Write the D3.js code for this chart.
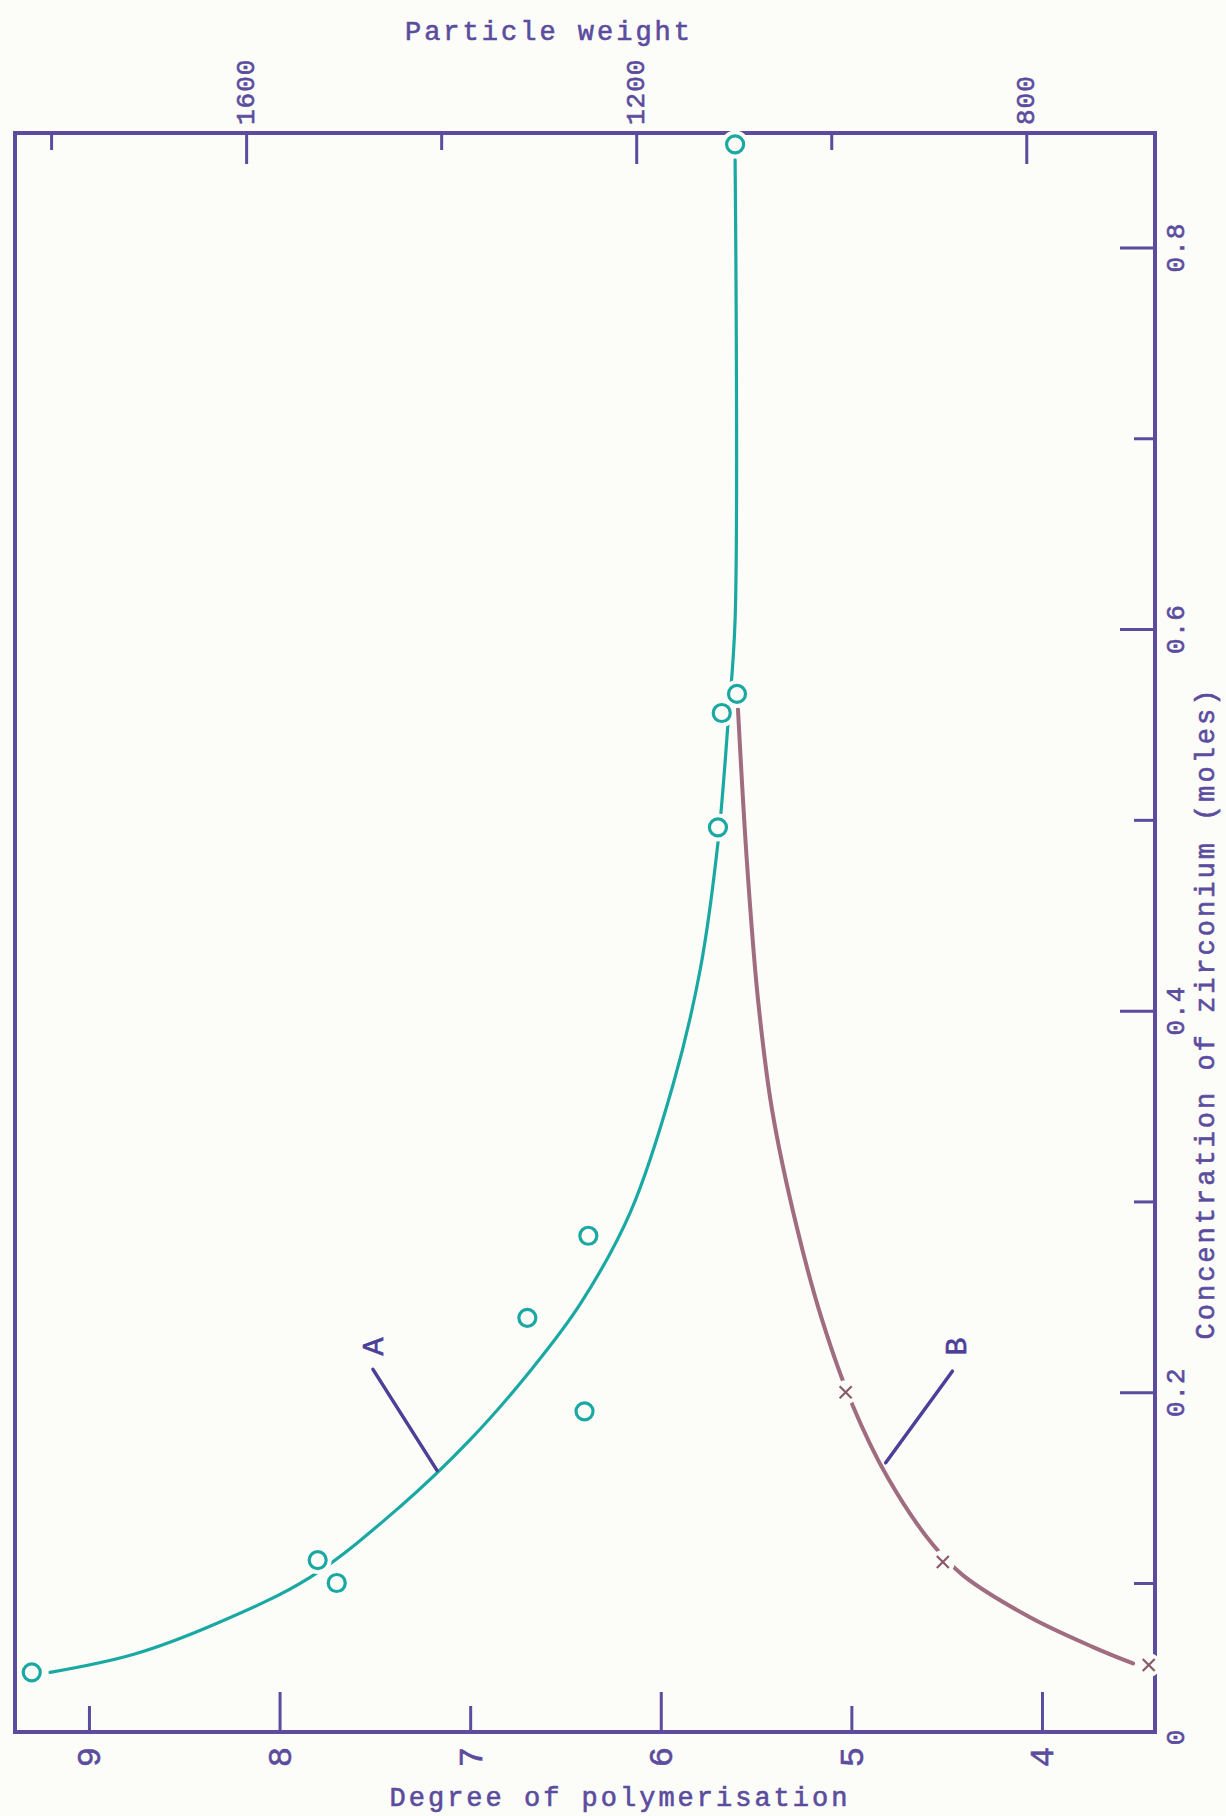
<!DOCTYPE html>
<html>
<head>
<meta charset="utf-8">
<script src="https://cdn.jsdelivr.net/npm/d3@7"></script>
<style>
  html, body { margin: 0; padding: 0; background: #fcfcf9; }
  svg { display: block; }
  text { font-family: "Liberation Mono", "DejaVu Sans Mono", monospace; fill: #5b4c9e; stroke: #5b4c9e; stroke-width: 0.6px; }
</style>
</head>
<body>
<div id="plot"></div>
<script>
// axis ticks
const dpTicks = [9, 8, 7, 6, 5, 4];                 // degree of polymerisation (bottom)
const pwTicks = [1800, 1600, 1400, 1200, 1000, 800]; // particle weight (top)
const pwLabels = [1600, 1200, 800];
const concTicks = [0.1, 0.2, 0.3, 0.4, 0.5, 0.6, 0.7, 0.8]; // zirconium conc. (right)
const concLabels = [0, 0.2, 0.4, 0.6, 0.8];

// curve A - measured points (circles)
const aDp   = [9.30, 7.80, 7.70, 6.40, 6.70, 6.38, 5.70, 5.68, 5.60, 5.61];
const aConc = [0.040, 0.112, 0.100, 0.190, 0.239, 0.282, 0.496, 0.556, 0.566, 0.854];

// curve A - drawn line
const curveADp   = [9.204, 8.769, 8.328, 7.840, 7.368, 7.001, 6.686, 6.424, 6.161, 5.936, 5.794, 5.700, 5.647, 5.610, 5.610];
const curveAConc = [0.040, 0.052, 0.073, 0.103, 0.140, 0.175, 0.211, 0.246, 0.294, 0.361, 0.421, 0.488, 0.551, 0.605, 0.846];

// curve B - measured points (crosses)
const bDp   = [5.03, 4.52, 3.44];
const bConc = [0.200, 0.111, 0.045];

// curve B - drawn line
const curveBDp   = [5.595, 5.548, 5.490, 5.416, 5.290, 5.154, 4.997, 4.808, 4.572, 4.414, 4.063, 3.732, 3.522];
const curveBConc = [0.558, 0.478, 0.406, 0.348, 0.288, 0.238, 0.194, 0.155, 0.120, 0.104, 0.077, 0.057, 0.046];

// curve labels with their leader lines
const curveNames = ["A", "B"];
const labelDp    = [7.50, 4.44];
const labelConc  = [0.224, 0.224];
const leaderFrom = [[7.51, 0.212], [4.47, 0.211]];
const leaderTo   = [[7.174, 0.159], [4.82, 0.163]];

const w = 1226;
const h = 1816;
const frame = {left: 15, top: 133, right: 1155, bottom: 1732};

const purple = "#5b4c9e";
const teal = "#1aa8a2";
const mauve = "#a06c80";
const bg = "#fcfcf9";

// scales
const xDP = d3.scaleLinear()
  .domain([9.388, 3.407])
  .range([frame.left, frame.right]);

const xPW = d3.scaleLinear()
  .domain([1837, 668])
  .range([frame.left, frame.right]);

// hand drawn concentration axis: first interval is shorter than the rest
const yC = d3.scaleLinear()
  .domain([0, 0.1, 0.86])
  .range([frame.bottom, 1583, frame.top]);

const svg = d3.select("div#plot")
  .append("svg")
  .attr("width", w)
  .attr("height", h);

svg.append("rect")
  .attr("width", w)
  .attr("height", h)
  .attr("fill", bg);

// frame
svg.append("rect")
  .attr("x", frame.left)
  .attr("y", frame.top)
  .attr("width", frame.right - frame.left)
  .attr("height", frame.bottom - frame.top)
  .attr("fill", "none")
  .attr("stroke", purple)
  .attr("stroke-width", 4);

// bottom axis (degree of polymerisation), ticks pointing up
const bottomAxis = svg.append("g")
  .attr("transform", `translate(0, ${frame.bottom})`)
  .call(d3.axisTop(xDP).tickValues(dpTicks).tickSize(0).tickFormat(""));
bottomAxis.select(".domain").remove();
bottomAxis.selectAll(".tick line")
  .attr("y2", d => d % 2 === 0 ? -40 : -26)
  .attr("stroke", purple)
  .attr("stroke-width", 3);
bottomAxis.selectAll(".tick")
  .append("text")
  .attr("transform", "translate(2, 25) rotate(-90)")
  .attr("text-anchor", "middle")
  .attr("dominant-baseline", "central")
  .style("font-size", "34px")
  .text(d => d);

// top axis (particle weight), ticks pointing down
const topAxis = svg.append("g")
  .attr("transform", `translate(0, ${frame.top})`)
  .call(d3.axisBottom(xPW).tickValues(pwTicks).tickSize(0).tickFormat(""));
topAxis.select(".domain").remove();
topAxis.selectAll(".tick line")
  .attr("y2", d => pwLabels.includes(d) ? 31 : 17)
  .attr("stroke", purple)
  .attr("stroke-width", 3);
topAxis.selectAll(".tick")
  .filter(d => pwLabels.includes(d))
  .append("text")
  .attr("transform", "translate(0, -8) rotate(-90)")
  .attr("text-anchor", "start")
  .attr("dominant-baseline", "central")
  .style("font-size", "26px")
  .style("letter-spacing", "1px")
  .text(d => d);

// right axis (concentration), ticks pointing left
const rightAxis = svg.append("g")
  .attr("transform", `translate(${frame.right}, 0)`)
  .call(d3.axisRight(yC).tickValues(concTicks).tickSize(0).tickFormat(""));
rightAxis.select(".domain").remove();
rightAxis.selectAll(".tick line")
  .attr("x2", d => Math.round(d * 10) % 2 === 0 ? -35 : -21)
  .attr("stroke", purple)
  .attr("stroke-width", 3);

svg.append("g")
  .selectAll("text")
  .data(concLabels)
  .join("text")
  .attr("transform", d => `translate(${frame.right + 22}, ${yC(d) + (d === 0 ? 5 : 0)}) rotate(-90)`)
  .attr("text-anchor", "middle")
  .attr("dominant-baseline", "central")
  .style("font-size", "26px")
  .style("letter-spacing", "1px")
  .text(d => d === 0 ? "0" : d3.format(".1f")(d));

// axis titles
svg.append("text")
  .attr("x", 549)
  .attr("y", 40)
  .attr("text-anchor", "middle")
  .style("font-size", "27px")
  .style("letter-spacing", "3px")
  .text("Particle weight");

svg.append("text")
  .attr("x", 620)
  .attr("y", 1806)
  .attr("text-anchor", "middle")
  .style("font-size", "27px")
  .style("letter-spacing", "3px")
  .text("Degree of polymerisation");

svg.append("text")
  .attr("transform", `translate(1207, 1013) rotate(-90)`)
  .attr("text-anchor", "middle")
  .attr("dominant-baseline", "central")
  .style("font-size", "27px")
  .style("letter-spacing", "3px")
  .text("Concentration of zirconium (moles)");

// curves
const line = d3.line()
  .x(d => xDP(d[0]))
  .y(d => yC(d[1]))
  .curve(d3.curveCatmullRom.alpha(0.5));

svg.append("path")
  .datum(d3.zip(curveBDp, curveBConc))
  .attr("d", line)
  .attr("fill", "none")
  .attr("stroke", mauve)
  .attr("stroke-width", 4)
  .attr("stroke-linecap", "round");

svg.append("path")
  .datum(d3.zip(curveADp, curveAConc))
  .attr("d", line)
  .attr("fill", "none")
  .attr("stroke", teal)
  .attr("stroke-width", 3.2)
  .attr("stroke-linecap", "round");

// points of A: a halo opens the line round each circle
const aPoints = d3.zip(aDp, aConc);
svg.append("g")
  .selectAll("circle")
  .data(aPoints)
  .join("circle")
  .attr("cx", d => xDP(d[0]))
  .attr("cy", d => yC(d[1]))
  .attr("r", 14)
  .attr("fill", bg);

svg.append("g")
  .selectAll("circle")
  .data(aPoints)
  .join("circle")
  .attr("cx", d => xDP(d[0]))
  .attr("cy", d => yC(d[1]))
  .attr("r", 8.5)
  .attr("fill", "none")
  .attr("stroke", teal)
  .attr("stroke-width", 3.2);

// points of B: crosses
const bPoints = d3.zip(bDp, bConc);
svg.append("g")
  .selectAll("circle")
  .data(bPoints)
  .join("circle")
  .attr("cx", d => xDP(d[0]))
  .attr("cy", d => yC(d[1]))
  .attr("r", 12)
  .attr("fill", bg);

const crosses = svg.append("g")
  .selectAll("g")
  .data(bPoints)
  .join("g")
  .attr("transform", d => `translate(${xDP(d[0])}, ${yC(d[1])})`);
crosses.append("line")
  .attr("x1", -6).attr("y1", -6).attr("x2", 6).attr("y2", 6)
  .attr("stroke", "#8a5a6c").attr("stroke-width", 2.2);
crosses.append("line")
  .attr("x1", -6).attr("y1", 6).attr("x2", 6).attr("y2", -6)
  .attr("stroke", "#8a5a6c").attr("stroke-width", 2.2);

// curve names and leader lines
svg.append("g")
  .selectAll("line")
  .data(curveNames)
  .join("line")
  .attr("x1", (d, i) => xDP(leaderFrom[i][0]))
  .attr("y1", (d, i) => yC(leaderFrom[i][1]))
  .attr("x2", (d, i) => xDP(leaderTo[i][0]))
  .attr("y2", (d, i) => yC(leaderTo[i][1]))
  .attr("stroke", "#4b3f98")
  .attr("stroke-width", 3.5)
  .attr("stroke-linecap", "round");

svg.append("g")
  .selectAll("text")
  .data(curveNames)
  .join("text")
  .attr("transform", (d, i) => `translate(${xDP(labelDp[i])}, ${yC(labelConc[i])}) rotate(-90)`)
  .attr("text-anchor", "middle")
  .attr("dominant-baseline", "central")
  .style("font-size", "30px")
  .style("fill", "#4b3f98")
  .style("stroke", "#4b3f98")
  .text(d => d);
</script>
</body>
</html>
